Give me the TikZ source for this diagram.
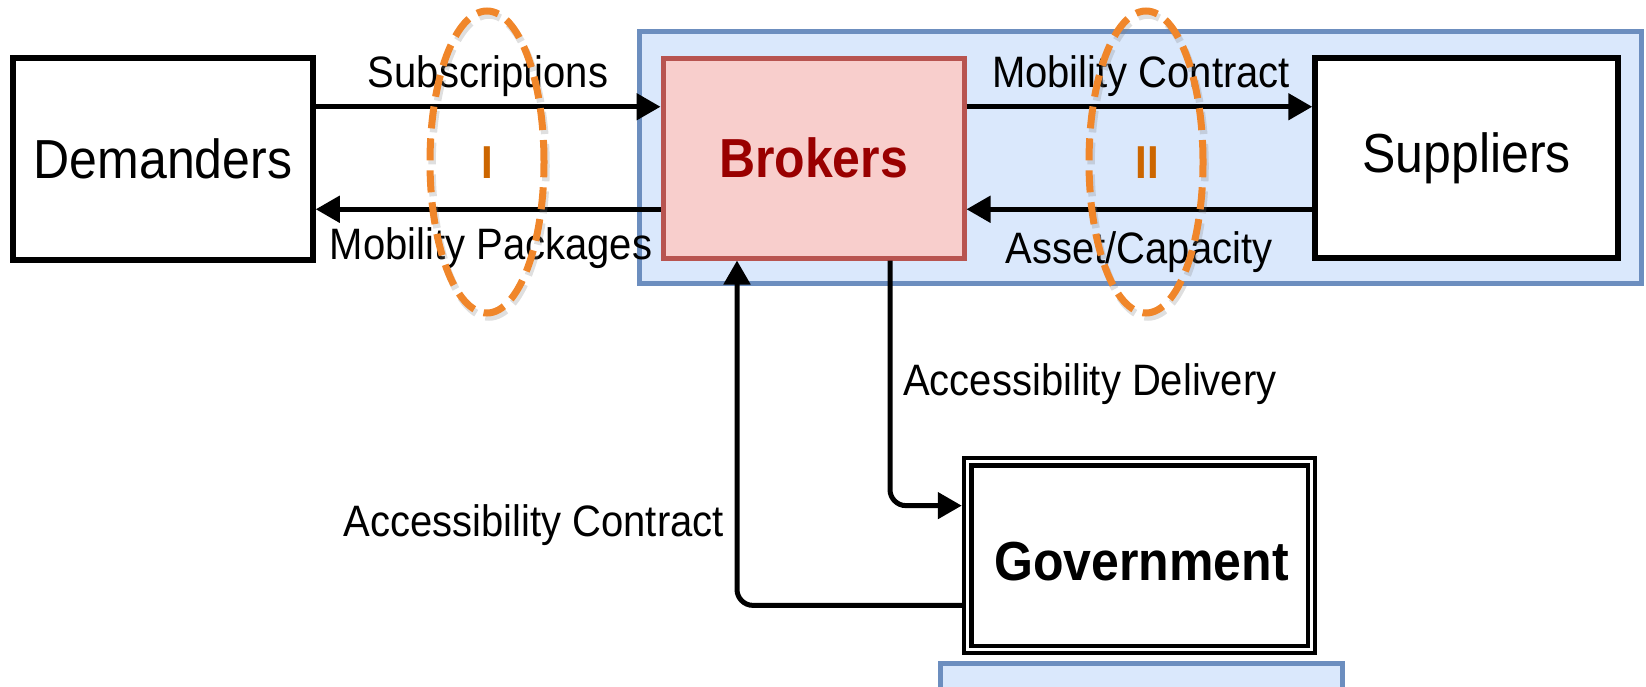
\documentclass[tikz,border=0pt]{standalone}
\usepackage{fontspec}
\setmainfont{Liberation Sans}
\usepackage{graphicx}
\usetikzlibrary{arrows.meta,calc}

\definecolor{blueFill}{HTML}{DAE8FC}
\definecolor{blueLine}{HTML}{6C8EBF}
\definecolor{redFill}{HTML}{F8CECC}
\definecolor{redLine}{HTML}{B85450}
\definecolor{brokerText}{HTML}{990000}
\definecolor{ringOrange}{HTML}{F0862A}
\definecolor{romanText}{HTML}{CC6600}

% slightly tall lettering
\newcommand\tallword[1]{\scalebox{1}[1.1]{#1}}

\tikzset{
  entity/.style={draw=black, line width=5.5pt, fill=white, inner sep=0pt},
  boxtext/.style={font=\fontsize{50}{60}\selectfont},
  flowlabel/.style={font=\fontsize{40}{48}\selectfont, inner sep=0pt},
  flow/.style={line width=5pt, -{Triangle[length=24pt,width=26pt]}},
  ring/.style={draw=ringOrange, line width=7pt, dash pattern=on 22pt off 10pt},
  ringshadow/.style={draw=black!50, opacity=0.25, line width=7.5pt, dash pattern=on 22pt off 10pt},
  roman/.style={font=\bfseries\fontsize{42}{50}\selectfont, text=romanText},
}

\begin{document}
\begin{tikzpicture}[x=1pt,y=-1pt]
\useasboundingbox (0,0) rectangle (1646,686);
\clip (0,0) rectangle (1646,686);

% market container behind brokers and suppliers
\filldraw[fill=blueFill, draw=blueLine, line width=5pt] (639,31) rectangle (1641,283);
% strip under the government box
\filldraw[fill=blueFill, draw=blueLine, line width=5pt] (940,663) rectangle (1342,700);

% actors
\node[entity, minimum width=300pt, minimum height=202pt, boxtext] (dem) at (163,159) {\tallword{Demanders}};
\node[entity, draw=redLine, fill=redFill, line width=5pt, minimum width=301pt, minimum height=200pt,
      boxtext, font=\bfseries\fontsize{50}{60}\selectfont, text=brokerText] (brk) at (813.5,158) {\tallword{Brokers}};
\node[entity, minimum width=303pt, minimum height=200pt, boxtext] (sup) at (1466.5,158) {\tallword{Suppliers}};
\node[entity, line width=4.5pt, minimum width=351pt, minimum height=195pt] (gov) at (1139.5,555.5) {};
\draw[line width=4.5pt] ([shift={(9.5,9.5)}]gov.north west) rectangle ([shift={(-9.5,-9.5)}]gov.south east);
\node[boxtext, font=\bfseries\fontsize{50}{60}\selectfont] (govtext) at ($(gov.center)+(2,6)$) {\tallword{Government}};

% anchor points on the box sides
\coordinate (bL1) at ($(brk.north west)!.25!(brk.south west)$);
\coordinate (bL2) at ($(brk.north west)!.75!(brk.south west)$);
\coordinate (bR1) at ($(brk.north east)!.25!(brk.south east)$);
\coordinate (bR2) at ($(brk.north east)!.75!(brk.south east)$);
\coordinate (bB1) at ($(brk.south west)!.25!(brk.south east)$);
\coordinate (bB2) at ($(brk.south west)!.75!(brk.south east)$);
\coordinate (gL1) at ($(gov.north west)!.25!(gov.south west)$);
\coordinate (gL2) at ($(gov.north west)!.75!(gov.south west)$);

% flows
\draw[flow] (dem.east |- bL1) -- (bL1);
\draw[flow] (bL2) -- (dem.east |- bL2);
\draw[flow] (bR1) -- (sup.west |- bR1);
\draw[flow] (sup.west |- bR2) -- (bR2);
\draw[flow, rounded corners=16pt] (bB2) |- (gL1);
\draw[flow, rounded corners=16pt] (gL2) -| (bB1);

% flow labels
\node[flowlabel] (lsub) at (488,76) {\tallword{Subscriptions}};
\node[flowlabel] (lpkg) at (491,248) {\tallword{Mobility Packages}};
\node[flowlabel] (lmc) at (1141,76) {\tallword{Mobility Contract}};
\node[flowlabel] (lasset) at (1139,252) {\tallword{Asset/Capacity}};
\node[flowlabel, anchor=west] (ldel) at (903,384) {\tallword{Accessibility Delivery}};
\node[flowlabel, anchor=east] (lcon) at (724,525) {\tallword{Accessibility Contract}};

% interface rings
\draw[ringshadow] (489,166) ellipse [x radius=57pt, y radius=151pt];
\draw[ring] (487,162) ellipse [x radius=57pt, y radius=151pt];
\node[roman] (rI) at (487,163) {\tallword{I}};
\draw[ringshadow] (1148,166) ellipse [x radius=57pt, y radius=151pt];
\draw[ring] (1146,162) ellipse [x radius=57pt, y radius=151pt];
\node[roman] (rII) at (1147,163) {\tallword{II}};
\end{tikzpicture}
\end{document}
